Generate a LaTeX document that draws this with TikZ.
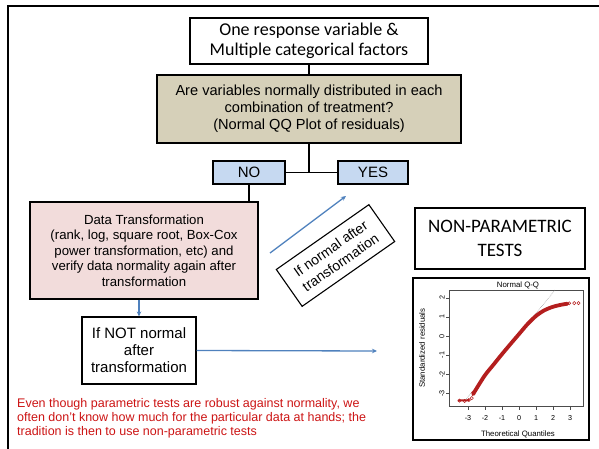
\documentclass[tikz,border=0pt]{standalone}
\usepackage{fontspec}
\setmainfont{Liberation Sans}
\newfontfamily\calfont{Carlito}
\usetikzlibrary{arrows.meta, positioning, calc}

\begin{document}
\begin{tikzpicture}[x=1pt, y=-1pt, >={Stealth[length=5pt, width=4.5pt]},
    box/.style={draw, line width=1.1pt, align=center, inner sep=0pt},
    link/.style={line width=1.1pt},
    bluearrow/.style={->, line width=1.3pt, flowblue},
    ticklab/.style={font=\fontsize{7.2}{8}\selectfont, inner sep=0pt}
]

% Colores
\definecolor{tanfill}{RGB}{214, 208, 185}
\definecolor{answerfill}{RGB}{198, 217, 241}
\definecolor{pinkfill}{RGB}{242, 220, 219}
\definecolor{notered}{RGB}{204, 20, 20}
\definecolor{flowblue}{RGB}{79, 129, 189}
\definecolor{qqred}{RGB}{180, 30, 30}

\useasboundingbox (0,0) rectangle (599,449);

% Marco de la diapositiva
\draw[line width=2pt] (7.5,449) -- (7.5,6) -- (599,6);

% ============ Pregunta inicial ============
\node[box, minimum width=238pt, minimum height=46pt, font=\calfont\fontsize{18}{20}\selectfont] (start) at (309,41)
    {One response variable \&\\Multiple categorical factors};
\node[box, fill=tanfill, minimum width=304pt, minimum height=68pt, font=\fontsize{14.6}{17}\selectfont] (check) at (309,109)
    {Are variables normally distributed in each\\combination of treatment?\\(Normal QQ Plot of residuals)};
\node[box, fill=answerfill, minimum width=72pt, minimum height=23pt, font=\fontsize{15}{17}\selectfont] (no) at (249,172.5) {NO};
\node[box, fill=answerfill, minimum width=70pt, minimum height=23pt, font=\fontsize{15}{17}\selectfont] (yes) at (373,172.5) {YES};
\coordinate (split) at (check.south |- no.east);
\draw[link] (start) -- (check);
\draw[link] (check.south) -- (split);
\draw[link] (no.east) -- (yes.west);

% ============ Rama NO: transformacion ============
\node[box, fill=pinkfill, minimum width=228pt, minimum height=97pt, font=\fontsize{13.2}{15.5}\selectfont] (transf) at (144,250.5)
    {Data Transformation\\(rank, log, square root, Box-Cox\\power transformation, etc) and\\verify data normality again after\\transformation};
\draw[link] (no.south) -- (no.south |- transf.north);

\node[box, minimum width=114pt, minimum height=67pt, font=\fontsize{15}{17}\selectfont] (notnormal) at (139,350.5)
    {If NOT normal\\after\\transformation};
\draw[bluearrow] (notnormal.north |- transf.south) -- (notnormal.north);
\coordinate (nptip) at (377,351);
\draw[bluearrow] (notnormal.east) -- (nptip);

% Flecha diagonal hacia YES
\coordinate (diagfrom) at (270,253);
\coordinate (diagto) at (346,196);
\draw[bluearrow] (diagfrom) -- (diagto);
\node[box, rotate=35, minimum width=113pt, minimum height=45pt, font=\fontsize{14}{17}\selectfont] (ifnormal) at (335.5,255.5)
    {If normal after\\transformation};

% ============ Pruebas no parametricas ============
\node[box, minimum width=170pt, minimum height=61pt, font=\calfont\fontsize{19}{24}\selectfont] (nonpar) at (500,238.5)
    {NON-PARAMETRIC\\TESTS};

% Grafico Q-Q
\node[draw, line width=2pt, minimum width=176pt, minimum height=162pt, inner sep=0pt] (qqpanel) at (501,359) {};
\begin{scope}[shift={(519pt,-336pt)}, x=17pt, y=19.1pt]
    \draw[line width=0.5pt, black!70] (-4.12,-3.66) rectangle (3.76,2.41);
    \node[font=\fontsize{7.8}{9}\selectfont, inner sep=0pt] (qqtitle) at (-0.06,2.67) {Normal Q-Q};
    \node[font=\fontsize{7.8}{9}\selectfont, inner sep=0pt] (qqxlab) at (-0.06,-5.13) {Theoretical Quantiles};
    \node[font=\fontsize{7.8}{9}\selectfont, inner sep=0pt, rotate=90] (qqylab) at (-5.7,-0.63) {Standardized residuals};
    \foreach \u in {-3,...,3} {
        \draw[line width=0.4pt, black!70] (\u,-3.66) -- ++(0,-0.2);
        \node[ticklab] (xt\u) at (\u,-4.29) {\u};
    }
    \foreach \v in {-3,...,2} {
        \draw[line width=0.4pt, black!70] (-4.12,\v) -- ++(-0.2,0);
        \node[ticklab, rotate=90] (yt\v) at (-4.53,\v) {\v};
    }
    % recta de referencia
    \draw[gray, densely dotted, line width=0.5pt] (-3.2,-3.4) -- (2.12,2.41);
    % residuos
    \draw[qqred, line width=3.8pt, line cap=round] plot[smooth] coordinates {
        (-2.7,-3.05) (-2.5,-2.75) (-2,-2.05) (-1.5,-1.5) (-1,-0.95) (-0.5,-0.42)
        (0,0.1) (0.5,0.62) (1,1.05) (1.5,1.35) (2,1.53) (2.5,1.64) (2.85,1.69)};
    \draw[qqred, line width=2pt] (-3.6,-3.38) -- (-2.9,-3.36);
    \foreach \p in {(-3.5,-3.38),(-3.2,-3.4),(-2.95,-3.35),(-2.78,-3.25),(-2.7,-2.95),
                    (2.95,1.71),(3.25,1.72),(3.5,1.72)}
        \draw[qqred, line width=0.5pt] \p circle[radius=1.6pt];
\end{scope}

% === Nota inferior ===
\node[anchor=north west, align=left, text=notered, inner sep=0pt, font=\fontsize{12.5}{14}\selectfont] (note) at (17,398)
    {Even though parametric tests are robust against normality, we\\often don’t know how much for the particular data at hands; the\\tradition is then to use non-parametric tests};

\end{tikzpicture}
\end{document}
